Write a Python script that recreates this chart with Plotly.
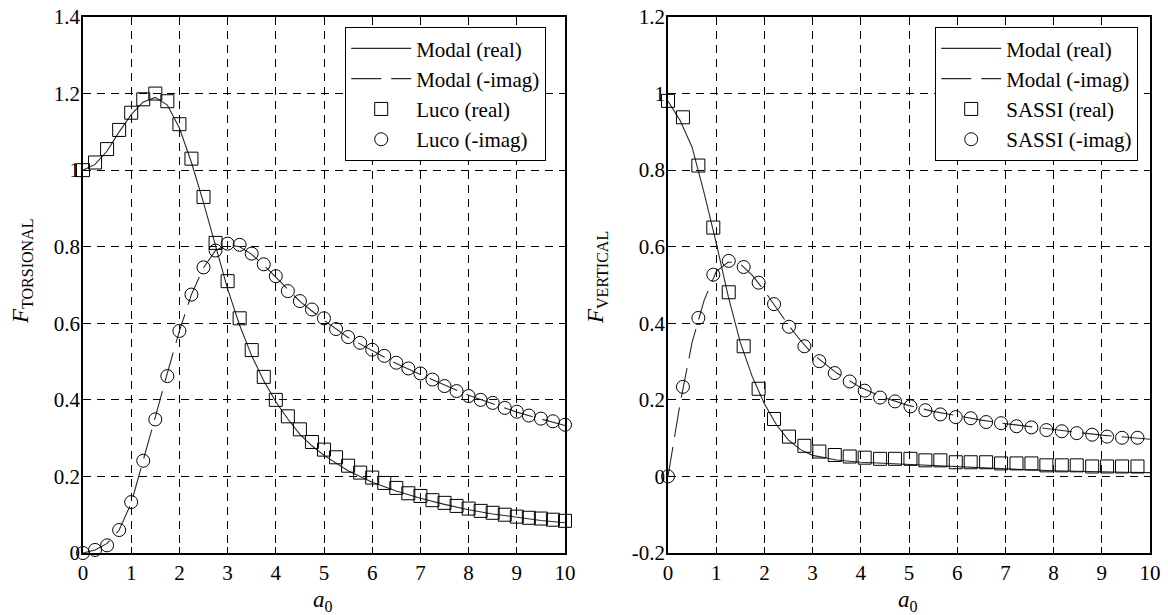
import plotly.graph_objects as go

# ---------------- data: left panel (torsional) ----------------
luco_x = [0, 0.25, 0.5, 0.75, 1.0, 1.25, 1.5, 1.75, 2.0, 2.25, 2.5, 2.75, 3.0, 3.25, 3.5, 3.75,
          4.0, 4.25, 4.5, 4.75, 5.0, 5.25, 5.5, 5.75, 6.0, 6.25, 6.5, 6.75, 7.0, 7.25, 7.5, 7.75,
          8.0, 8.25, 8.5, 8.75, 9.0, 9.25, 9.5, 9.75, 10.0]
luco_real = [1.0, 1.02, 1.055, 1.105, 1.15, 1.185, 1.2, 1.18, 1.12, 1.03, 0.93, 0.81, 0.71, 0.613,
             0.53, 0.46, 0.40, 0.357, 0.323, 0.29, 0.27, 0.25, 0.228, 0.21, 0.197, 0.183, 0.17,
             0.156, 0.149, 0.138, 0.131, 0.123, 0.116, 0.11, 0.105, 0.1, 0.095, 0.092, 0.09,
             0.087, 0.084]
luco_imag = [0.0, 0.008, 0.02, 0.06, 0.133, 0.241, 0.349, 0.462, 0.58, 0.675, 0.746, 0.79, 0.808,
             0.805, 0.782, 0.754, 0.723, 0.684, 0.658, 0.636, 0.613, 0.585, 0.564, 0.549, 0.531,
             0.515, 0.497, 0.482, 0.469, 0.453, 0.436, 0.423, 0.41, 0.40, 0.392, 0.379, 0.369,
             0.359, 0.351, 0.344, 0.335]

modal_t_x = [0, 0.25, 0.5, 0.75, 1.0, 1.25, 1.5, 1.75, 2.0, 2.25, 2.5, 2.75, 3.0, 3.25, 3.5,
             3.75, 4.0, 4.25, 4.5, 4.75, 5.0, 5.5, 6.0, 6.5, 7.0, 7.5, 8.0, 8.5, 9.0, 9.5, 10.0]
modal_t_real = [1.0, 1.015, 1.05, 1.10, 1.145, 1.178, 1.19, 1.17, 1.11, 1.02, 0.915, 0.80, 0.69,
                0.595, 0.515, 0.45, 0.395, 0.35, 0.31, 0.28, 0.255, 0.215, 0.185, 0.162, 0.143,
                0.127, 0.113, 0.102, 0.093, 0.085, 0.079]
modal_t_imag = [0.0, 0.008, 0.025, 0.06, 0.13, 0.24, 0.355, 0.47, 0.58, 0.675, 0.745, 0.79,
                0.805, 0.80, 0.78, 0.752, 0.72, 0.688, 0.657, 0.632, 0.608, 0.563, 0.528, 0.495,
                0.466, 0.438, 0.412, 0.39, 0.368, 0.35, 0.333]

# ---------------- data: right panel (vertical) ----------------
sassi_x = [0, 0.31, 0.63, 0.94, 1.26, 1.57, 1.88, 2.20, 2.51, 2.83, 3.14, 3.46, 3.77, 4.08,
           4.40, 4.71, 5.03, 5.34, 5.65, 5.97, 6.28, 6.60, 6.91, 7.23, 7.54, 7.85, 8.17, 8.48,
           8.80, 9.11, 9.42, 9.74]
sassi_real = [0.981, 0.938, 0.812, 0.65, 0.481, 0.34, 0.229, 0.15, 0.104, 0.08, 0.065, 0.056,
              0.052, 0.049, 0.046, 0.046, 0.046, 0.042, 0.042, 0.037, 0.037, 0.037, 0.034,
              0.034, 0.034, 0.029, 0.029, 0.029, 0.026, 0.026, 0.026, 0.026]
sassi_imag = [0.0, 0.234, 0.414, 0.527, 0.563, 0.547, 0.506, 0.45, 0.391, 0.34, 0.301, 0.27,
              0.248, 0.224, 0.206, 0.196, 0.183, 0.173, 0.162, 0.155, 0.152, 0.142, 0.139,
              0.131, 0.128, 0.121, 0.118, 0.113, 0.109, 0.104, 0.101, 0.101]

modal_v_x = [0, 0.25, 0.5, 0.75, 1.0, 1.25, 1.5, 1.75, 2.0, 2.25, 2.5, 2.75, 3.0, 3.5, 4.0,
             4.5, 5.0, 5.5, 6.0, 6.5, 7.0, 7.5, 8.0, 8.5, 9.0, 9.5, 10.0]
modal_v_real = [0.98, 0.93, 0.86, 0.74, 0.61, 0.47, 0.35, 0.26, 0.19, 0.135, 0.095, 0.07, 0.055,
                0.043, 0.037, 0.034, 0.032, 0.028, 0.025, 0.022, 0.02, 0.017, 0.015, 0.013,
                0.012, 0.011, 0.01]
modal_v_imag = [0.0, 0.19, 0.35, 0.46, 0.535, 0.56, 0.555, 0.525, 0.485, 0.44, 0.395, 0.355,
                0.32, 0.27, 0.232, 0.205, 0.185, 0.17, 0.158, 0.147, 0.138, 0.13, 0.122, 0.115,
                0.108, 0.102, 0.097]

# ---------------- ticks ----------------
x_ticks = [0, 1, 2, 3, 4, 5, 6, 7, 8, 9, 10]
x_ticktext = ["0", "1", "2", "3", "4", "5", "6", "7", "8", "9", "10"]
yl_ticks = [0, 0.2, 0.4, 0.6, 0.8, 1.0, 1.2, 1.4]
yl_ticktext = ["0", "0.2", "0.4", "0.6", "0.8", "1", "1.2", "1.4"]
yr_ticks = [-0.2, 0, 0.2, 0.4, 0.6, 0.8, 1.0, 1.2]
yr_ticktext = ["-0.2", "0", "0.2", "0.4", "0.6", "0.8", "1", "1.2"]

FONT = "Liberation Serif"
W, H = 1168, 615
LINE_C = "#2a2a2a"
DASH = "30px,10px"

fig = go.Figure()


def add_panel(xa, ya, leg, mx, mreal, mimag, px_real, preal, px_imag, pimag, name):
    fig.add_trace(go.Scatter(x=mx, y=mreal, mode="lines", name="Modal (real)",
                             line=dict(color=LINE_C, width=1.1), xaxis=xa, yaxis=ya, legend=leg))
    fig.add_trace(go.Scatter(x=mx, y=mimag, mode="lines", name="Modal (-imag)",
                             line=dict(color=LINE_C, width=1.1, dash=DASH), xaxis=xa, yaxis=ya,
                             legend=leg))
    fig.add_trace(go.Scatter(x=px_real, y=preal, mode="markers", name=f"{name} (real)",
                             marker=dict(symbol="square-open", size=13, color="black",
                                         line=dict(width=1, color="black")),
                             cliponaxis=False, xaxis=xa, yaxis=ya, legend=leg))
    fig.add_trace(go.Scatter(x=px_imag, y=pimag, mode="markers", name=f"{name} (-imag)",
                             marker=dict(symbol="circle-open", size=13, color="black",
                                         line=dict(width=1, color="black")),
                             cliponaxis=False, xaxis=xa, yaxis=ya, legend=leg))


add_panel("x", "y", "legend", modal_t_x, modal_t_real, modal_t_imag,
          luco_x, luco_real, luco_x, luco_imag, "Luco")
add_panel("x2", "y2", "legend2", modal_v_x, modal_v_real, modal_v_imag,
          sassi_x, sassi_real, sassi_x, sassi_imag, "SASSI")


def axis_style(**kw):
    d = dict(showline=True, linecolor="black", linewidth=1.5, mirror="ticks",
             ticks="inside", ticklen=6, tickwidth=1, tickcolor="black",
             showgrid=True, gridcolor="black", gridwidth=1, griddash="8px,6px",
             zeroline=False, automargin=False,
             tickfont=dict(family=FONT, size=21, color="black"))
    d.update(kw)
    return d


leg_style = dict(xanchor="left", yanchor="top", bgcolor="white", bordercolor="black",
                 borderwidth=1.2, font=dict(family=FONT, size=21, color="black"),
                 itemwidth=60, tracegroupgap=0)

y_dom = [1 - 553 / H, 1 - 17 / H]
fig.update_layout(
    width=W, height=H, template="none",
    paper_bgcolor="white", plot_bgcolor="white",
    margin=dict(l=0, r=0, t=0, b=0, pad=0),
    font=dict(family=FONT, size=21, color="black"),
    xaxis=axis_style(domain=[83 / W, 565 / W], range=[0, 10], tickvals=x_ticks,
                     ticktext=x_ticktext, anchor="y"),
    yaxis=axis_style(domain=y_dom, range=[0, 1.4], tickvals=yl_ticks,
                     ticktext=yl_ticktext, anchor="x", ticklabelstandoff=-3),
    xaxis2=axis_style(domain=[668 / W, 1150 / W], range=[0, 10], tickvals=x_ticks,
                      ticktext=x_ticktext, anchor="y2"),
    yaxis2=axis_style(domain=y_dom, range=[-0.2, 1.2], tickvals=yr_ticks,
                      ticktext=yr_ticktext, anchor="x2", ticklabelstandoff=-3),
    legend=dict(x=345 / W, y=1 - 27 / H, **leg_style),
    legend2=dict(x=935 / W, y=1 - 27 / H, **leg_style),
    showlegend=True,
)

SUB = '<sub><span style="font-size:16px">{}</span></sub>'
annots = [
    dict(text="<i>a</i>" + SUB.format("0"), x=323 / W, y=1 - 601 / H),
    dict(text="<i>a</i>" + SUB.format("0"), x=908 / W, y=1 - 601 / H),
    dict(text="<i>F</i>" + SUB.format("TORSIONAL"), x=22 / W, y=1 - 272 / H, textangle=-90),
    dict(text="<i>F</i>" + SUB.format("VERTICAL"), x=597 / W, y=1 - 278 / H, textangle=-90),
]
for a in annots:
    fig.add_annotation(xref="paper", yref="paper", showarrow=False, xanchor="center",
                       yanchor="middle", font=dict(family=FONT, size=23, color="black"), **a)

fig.write_html("out.html", config={"displayModeBar": False},
               post_script="document.body.style.margin='0';document.body.style.overflow='hidden';")
